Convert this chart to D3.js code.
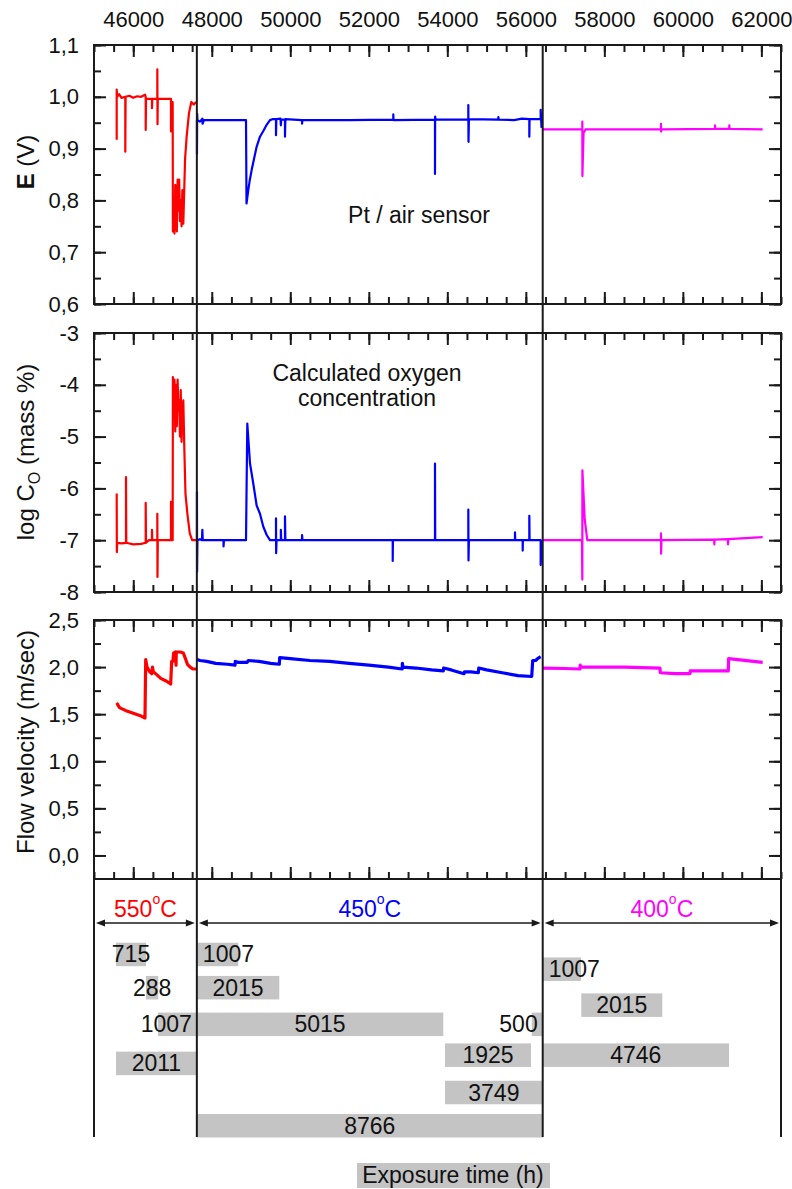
<!DOCTYPE html>
<html>
<head>
<meta charset="utf-8">
<script src="https://cdn.jsdelivr.net/npm/d3@7"></script>
<style>
  body { margin: 0; background: #fff; }
  text { font-family: "Liberation Sans", Arial, sans-serif; fill: #111; }
</style>
</head>
<body>
<div id="chart"></div>
<script>
// ---- data ----
const xDomain = [45000, 62500];
const xTicks = [46000, 48000, 50000, 52000, 54000, 56000, 58000, 60000, 62000];

const eTicks = [0.6, 0.7, 0.8, 0.9, 1.0, 1.1];
const coTicks = [-8, -7, -6, -5, -4, -3];
const vTicks = [0, 0.5, 1.0, 1.5, 2.0, 2.5];

// sensor potential E (V), [hours, value]
const eRed = [[45578,0.917],[45578,1.014],[45590,1.0],[45640,1.005],[45700,0.998],[45797,1.0],[45797,0.894],[45805,1.0],
  [45900,1.002],[46000,0.998],[46100,1.001],[46200,1.0],[46300,1.004],[46317,1.0],[46317,0.936],[46325,0.996],[46400,0.996],
  [46477,0.996],[46477,0.978],[46485,0.996],[46613,0.996],[46613,1.053],[46618,0.947],[46625,0.996],[46800,0.996],[46961,0.996],
  [46961,0.933],[46975,0.99],[47004,0.99],[47010,0.74],[47030,0.80],[47050,0.736],[47070,0.83],[47090,0.76],[47110,0.74],
  [47130,0.84],[47150,0.78],[47170,0.84],[47190,0.76],[47210,0.80],[47230,0.75],[47250,0.82],[47275,0.755],[47320,0.88],
  [47360,0.923],[47420,0.969],[47480,0.99],[47540,0.985],[47600,0.99]];
const eBlue = [[47623,0.955],[47623,0.89],[47628,0.967],[47635,0.955],[47700,0.952],[47760,0.958],[47765,0.948],[47800,0.955],
  [48300,0.955],[48872,0.955],[48885,0.794],[48930,0.82],[48970,0.84],[49017,0.859],[49144,0.904],[49228,0.923],[49320,0.935],
  [49398,0.946],[49483,0.955],[49560,0.957],[49636,0.957],[49636,0.926],[49645,0.957],[49750,0.958],[49760,0.945],[49770,0.956],
  [49865,0.956],[49865,0.923],[49875,0.957],[50300,0.955],[50300,0.948],[50310,0.955],[51500,0.955],[52624,0.956],[52624,0.966],
  [52630,0.955],[53686,0.956],[53686,0.851],[53690,0.962],[53700,0.956],[54535,0.956],[54535,0.984],[54540,0.913],[54550,0.957],
  [55300,0.956],[55300,0.961],[55310,0.956],[55700,0.955],[55900,0.958],[56089,0.957],[56089,0.923],[56095,0.957],[56378,0.957],
  [56378,0.975],[56400,0.94]];
const eMagenta = [[56430,0.937],[57000,0.937],[57439,0.937],[57439,0.952],[57442,0.847],[57470,0.93],[57520,0.937],[58500,0.937],
  [59443,0.937],[59443,0.948],[59446,0.933],[59455,0.937],[60819,0.938],[60819,0.945],[60825,0.938],[61183,0.938],[61183,0.945],
  [61190,0.938],[62033,0.937]];

// calculated oxygen concentration, log C_O
const coRed = [[45578,-6.10],[45582,-7.23],[45590,-7.05],[45700,-7.06],[45815,-7.05],[45815,-5.78],[45822,-7.05],[46000,-7.08],
  [46200,-7.07],[46317,-7.05],[46317,-6.28],[46325,-7.05],[46400,-7.0],[46477,-7.0],[46477,-6.80],[46485,-7.0],[46613,-7.0],
  [46613,-6.49],[46617,-7.71],[46625,-7.0],[46961,-7.0],[46961,-6.26],[46975,-7.0],[47004,-7.0],[47010,-3.85],[47030,-4.6],
  [47050,-3.9],[47070,-4.9],[47090,-4.0],[47110,-4.8],[47130,-3.9],[47150,-4.5],[47170,-4.3],[47190,-5.0],[47210,-4.1],
  [47230,-5.1],[47250,-4.5],[47275,-4.3],[47300,-5.2],[47330,-6.1],[47380,-6.5],[47440,-6.87],[47500,-7.0],[47600,-7.0]];
const coBlue = [[47623,-7.0],[47623,-6.07],[47626,-7.61],[47635,-7.0],[47700,-6.98],[47750,-7.0],[47760,-6.8],[47770,-7.0],
  [48300,-7.0],[48300,-7.12],[48310,-7.0],[48872,-7.0],[48905,-4.75],[48974,-5.52],[49058,-5.91],[49143,-6.33],[49228,-6.49],
  [49313,-6.74],[49400,-6.9],[49483,-7.0],[49636,-7.0],[49636,-6.58],[49640,-7.25],[49650,-7.0],[49760,-7.0],[49760,-6.8],
  [49770,-7.0],[49865,-7.0],[49865,-6.54],[49875,-7.0],[50300,-7.0],[50300,-6.9],[50310,-7.0],[52609,-7.0],[52609,-7.40],
  [52615,-7.0],[53686,-7.0],[53686,-5.52],[53692,-7.0],[54535,-7.0],[54535,-6.41],[54540,-7.39],[54550,-7.0],[55724,-7.0],
  [55724,-6.85],[55730,-7.0],[55920,-7.0],[55920,-7.2],[55925,-7.0],[56089,-7.0],[56089,-6.53],[56095,-7.0],[56378,-7.0],
  [56378,-7.48],[56400,-7.0]];
const coMagenta = [[56430,-7.0],[57000,-7.0],[57430,-7.0],[57439,-7.76],[57441,-5.65],[57500,-6.6],[57566,-7.0],[58500,-7.0],
  [59443,-7.0],[59443,-6.87],[59446,-7.26],[59455,-7.0],[60801,-6.99],[60801,-7.08],[60810,-6.99],[61150,-6.98],[61150,-7.08],
  [61160,-6.98],[62033,-6.94]];

// flow velocity (m/sec)
const vRed = [[45578,1.62],[45650,1.57],[45800,1.54],[46000,1.51],[46200,1.48],[46299,1.46],[46317,2.08],[46350,2.0],[46420,1.95],
  [46470,1.93],[46490,2.0],[46510,1.95],[46597,1.92],[46700,1.88],[46850,1.85],[46953,1.82],[46979,2.06],[47010,2.06],[47030,2.15],
  [47080,2.16],[47090,2.02],[47095,2.16],[47200,2.16],[47275,2.15],[47320,2.1],[47380,2.03],[47450,2.0],[47520,1.98],[47600,1.98]];
const vBlue = [[47623,2.08],[47700,2.07],[47870,2.06],[48100,2.04],[48400,2.03],[48592,2.02],[48600,2.06],[48676,2.05],[48900,2.05],
  [48930,2.07],[49200,2.06],[49500,2.04],[49720,2.03],[49730,2.10],[50000,2.09],[50500,2.07],[51000,2.06],[51500,2.04],[52000,2.02],
  [52500,2.0],[52850,1.98],[52855,2.04],[52870,2.0],[53200,1.99],[53600,1.97],[53898,1.96],[53905,1.99],[54100,1.97],[54425,1.93],
  [54440,1.95],[54600,1.95],[54790,1.94],[54800,1.99],[55000,1.97],[55400,1.94],[55800,1.91],[56150,1.90],[56175,2.07],[56250,2.07],
  [56300,2.09],[56378,2.11]];
const vMagenta = [[56430,1.99],[57000,1.985],[57380,1.98],[57385,2.02],[57400,2.0],[58500,2.0],[59418,1.99],[59425,1.94],[59800,1.93],
  [60182,1.93],[60190,1.96],[61158,1.96],[61165,2.09],[61400,2.08],[61800,2.06],[62033,2.05]];

// temperature periods
const periodStart = [45000, 47620, 56430];
const periodEnd = [47620, 56430, 62500];
const periodTemp = ["550", "450", "400"];

// exposure bars (hours label, start, end, lane)
const barLabel = ["715", "288", "1007", "2011", "1007", "2015", "5015", "500", "1925", "3749", "8766", "1007", "2015", "4746"];
const barStart = [45560, 46325, 46630, 45560, 47620, 47620, 47620, 56150, 53941, 53941, 47620, 56430, 57413, 56430];
const barEnd   = [46325, 46638, 47620, 47620, 48676, 49720, 53898, 56430, 56132, 56430, 56430, 57405, 59476, 61175];
const barLane  = [0, 0.97, 2.04, 3.18, 0, 0.97, 2.04, 2.04, 2.94, 4.03, 5, 0.43, 1.48, 2.94];

// ---- drawing ----
const colors = ["#ff0000", "#0000ff", "#ff00ff"];
const ink = "#1a1a1a";
const left = 94, right = 781;
const bottomEnd = 1137;

const svg = d3.select("#chart").append("svg")
    .attr("width", 792)
    .attr("height", 1189);

const x = d3.scaleLinear().domain(xDomain).range([left, right]);
const xMinor = d3.range(45000, 62501, 500);
const comma = d => d3.format(".1f")(d).replace(".", ",");
const plain = d => String(d);

const panels = [
    { top: 45, bottom: 304, domain: [0.6, 1.1], ticks: eTicks, minor: d3.range(0.6, 1.1001, 0.05), fmt: comma,
      series: [eRed, eBlue, eMagenta], width: 2.2, topLabels: true },
    { top: 333, bottom: 592, domain: [-8, -3], ticks: coTicks, minor: d3.range(-8, -2.999, 0.5), fmt: plain,
      series: [coRed, coBlue, coMagenta], width: 2.2, topLabels: false },
    { top: 620, bottom: 879, domain: [-0.25, 2.5], ticks: vTicks, minor: d3.range(0, 2.5001, 0.25), fmt: comma,
      series: [vRed, vBlue, vMagenta], width: 3.2, topLabels: false }
];

function styleAxis(g) {
    g.select(".domain").remove();
    g.selectAll(".tick line").attr("stroke", ink).attr("stroke-width", 2);
    g.selectAll(".tick text").style("font-size", "22px").attr("fill", ink);
}

panels.forEach(p => {
    const y = d3.scaleLinear().domain(p.domain).range([p.bottom, p.top]);
    const g = svg.append("g");

    // series lines
    const line = d3.line().x(d => x(d[0])).y(d => y(d[1]));
    p.series.forEach((s, i) => {
        g.append("path")
            .datum(s)
            .attr("d", line)
            .attr("fill", "none")
            .attr("stroke", colors[i])
            .attr("stroke-width", p.width)
            .attr("stroke-linejoin", "round");
    });

    // ticks on all four sides, pointing inward
    g.append("g").attr("transform", `translate(${left},0)`)
        .call(d3.axisLeft(y).tickValues(p.ticks).tickSize(-12).tickPadding(15).tickFormat(p.fmt)).call(styleAxis);
    g.append("g").attr("transform", `translate(${left},0)`)
        .call(d3.axisLeft(y).tickValues(p.minor).tickSize(-7).tickFormat("")).call(styleAxis);
    g.append("g").attr("transform", `translate(${right},0)`)
        .call(d3.axisRight(y).tickValues(p.ticks).tickSize(-12).tickFormat("")).call(styleAxis);
    g.append("g").attr("transform", `translate(${right},0)`)
        .call(d3.axisRight(y).tickValues(p.minor).tickSize(-7).tickFormat("")).call(styleAxis);

    g.append("g").attr("transform", `translate(0,${p.top})`)
        .call(d3.axisTop(x).tickValues(xTicks).tickSize(-12).tickPadding(18).tickFormat(p.topLabels ? plain : ""))
        .call(styleAxis);
    g.append("g").attr("transform", `translate(0,${p.top})`)
        .call(d3.axisTop(x).tickValues(xMinor).tickSize(-7).tickFormat("")).call(styleAxis);
    g.append("g").attr("transform", `translate(0,${p.bottom})`)
        .call(d3.axisBottom(x).tickValues(xTicks).tickSize(-12).tickFormat("")).call(styleAxis);
    g.append("g").attr("transform", `translate(0,${p.bottom})`)
        .call(d3.axisBottom(x).tickValues(xMinor).tickSize(-7).tickFormat("")).call(styleAxis);

    // frame
    g.append("rect")
        .attr("x", left).attr("y", p.top)
        .attr("width", right - left).attr("height", p.bottom - p.top)
        .attr("fill", "none").attr("stroke", ink).attr("stroke-width", 2);
});

// axis titles
const titleE = svg.append("text").attr("transform", "translate(34,162) rotate(-90)")
    .attr("text-anchor", "middle").style("font-size", "24px");
titleE.append("tspan").attr("font-weight", "bold").text("E");
titleE.append("tspan").text(" (V)");

const titleC = svg.append("text").attr("transform", "translate(34,452) rotate(-90)")
    .attr("text-anchor", "middle").style("font-size", "24px");
titleC.append("tspan").text("log C");
titleC.append("tspan").attr("dy", 6).style("font-size", "16px").text("O");
titleC.append("tspan").attr("dy", -6).text(" (mass %)");

svg.append("text").attr("transform", "translate(34,742) rotate(-90)")
    .attr("text-anchor", "middle").style("font-size", "24px")
    .text("Flow velocity (m/sec)");

// annotations
svg.append("text").attr("x", 419).attr("y", 223).attr("text-anchor", "middle")
    .style("font-size", "23px").text("Pt / air sensor");
svg.append("text").attr("x", 367).attr("y", 381).attr("text-anchor", "middle")
    .style("font-size", "23px").text("Calculated oxygen");
svg.append("text").attr("x", 367).attr("y", 406).attr("text-anchor", "middle")
    .style("font-size", "23px").text("concentration");

// bottom section: period arrows and exposure bars
const lane = d3.scaleLinear().domain([0, 5]).range([942.7, 1114]);
const barH = 23.5;
const bounds = [xDomain[0], ...periodEnd];

svg.selectAll(".bar")
    .data(barLabel)
    .enter()
    .append("rect")
    .attr("class", "bar")
    .attr("x", (d, i) => x(barStart[i]))
    .attr("y", (d, i) => lane(barLane[i]))
    .attr("width", (d, i) => x(barEnd[i]) - x(barStart[i]))
    .attr("height", barH)
    .attr("fill", "#c4c4c4");

const barText = svg.selectAll(".bar-label")
    .data(barLabel)
    .enter()
    .append("text")
    .attr("class", "bar-label")
    .attr("y", (d, i) => lane(barLane[i]) + barH / 2 + 8)
    .style("font-size", "23px")
    .text(d => d);

barText.each(function(d, i) {
    const x0 = x(barStart[i]), x1 = x(barEnd[i]);
    const tw = this.getComputedTextLength();
    let anchor = "middle", tx = (x0 + x1) / 2;
    if (tw > x1 - x0) {
        if (bounds.includes(barStart[i])) { anchor = "start"; tx = x0 + 6; }
        else if (bounds.includes(barEnd[i])) { anchor = "end"; tx = x1 - 5; }
    }
    d3.select(this).attr("x", tx).attr("text-anchor", anchor);
});

// vertical period boundaries
periodStart.slice(1).forEach(b => {
    svg.append("line").attr("x1", x(b)).attr("x2", x(b)).attr("y1", 45).attr("y2", bottomEnd)
        .attr("stroke", ink).attr("stroke-width", 2);
});
[xDomain[0], xDomain[1]].forEach(b => {
    svg.append("line").attr("x1", x(b)).attr("x2", x(b)).attr("y1", 879).attr("y2", bottomEnd)
        .attr("stroke", ink).attr("stroke-width", 2);
});

// double arrows and temperature labels
const arrowY = 923;
periodTemp.forEach((t, i) => {
    const a = x(periodStart[i]) + 2, b = x(periodEnd[i]) - 2;
    svg.append("line").attr("x1", a + 4).attr("x2", b - 4).attr("y1", arrowY).attr("y2", arrowY)
        .attr("stroke", ink).attr("stroke-width", 1.6);
    svg.append("path").attr("d", `M${a},${arrowY}L${a + 9},${arrowY - 3.5}L${a + 9},${arrowY + 3.5}Z`).attr("fill", ink);
    svg.append("path").attr("d", `M${b},${arrowY}L${b - 9},${arrowY - 3.5}L${b - 9},${arrowY + 3.5}Z`).attr("fill", ink);

    const label = svg.append("text")
        .attr("x", (x(periodStart[i]) + x(periodEnd[i])) / 2)
        .attr("y", 917)
        .attr("text-anchor", "middle")
        .style("font-size", "23px")
        .style("fill", colors[i]);
    label.append("tspan").text(t);
    label.append("tspan").attr("dy", -13).style("font-size", "14px").text("o");
    label.append("tspan").attr("dy", 13).text("C");
});

// x axis title with grey box
svg.append("rect").attr("x", 357).attr("y", 1163).attr("width", 193).attr("height", 25).attr("fill", "#c4c4c4");
svg.append("text").attr("x", 453).attr("y", 1183).attr("text-anchor", "middle")
    .style("font-size", "23px").text("Exposure time (h)");
</script>
</body>
</html>
